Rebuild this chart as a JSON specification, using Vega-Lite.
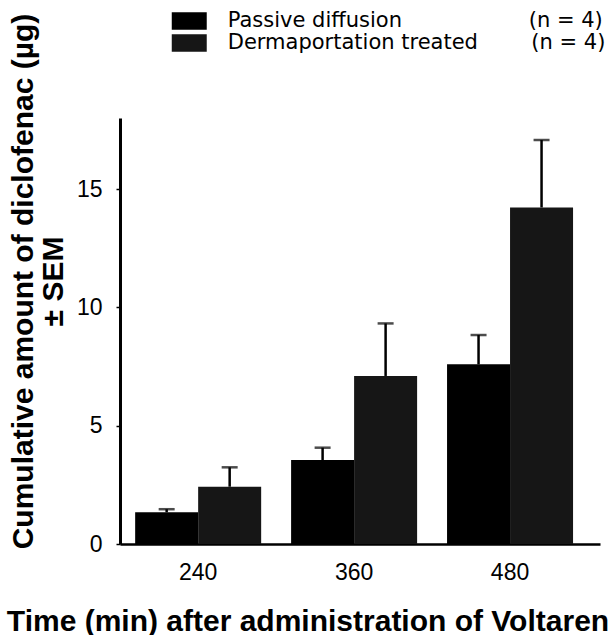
{
  "$schema": "https://vega.github.io/schema/vega-lite/v6.json",
  "width": 480,
  "height": 426,
  "autosize": {"type": "none"},
  "padding": {"left": 120, "top": 118, "right": 15, "bottom": 91},
  "background": "white",
  "config": {
    "view": {"stroke": null},
    "font": "Liberation Sans",
    "axis": {"labelColor": "black", "titleColor": "black", "domainColor": "black", "tickColor": "black"}
  },
  "data": {
    "values": [
      {"time": "240", "group": "Passive diffusion", "mean": 1.34, "upper": 1.47},
      {"time": "240", "group": "Dermaportation treated", "mean": 2.42, "upper": 3.24},
      {"time": "360", "group": "Passive diffusion", "mean": 3.55, "upper": 4.07},
      {"time": "360", "group": "Dermaportation treated", "mean": 7.1, "upper": 9.32},
      {"time": "480", "group": "Passive diffusion", "mean": 7.59, "upper": 8.83},
      {"time": "480", "group": "Dermaportation treated", "mean": 14.22, "upper": 17.07}
    ]
  },
  "encoding": {
    "x": {
      "field": "time",
      "type": "nominal",
      "sort": ["240", "360", "480"],
      "scale": {"paddingInner": 0.192, "paddingOuter": 0.135, "align": 0.36},
      "axis": {
        "title": "Time (min) after administration of Voltaren",
        "labelAngle": 0,
        "ticks": false,
        "tickSize": 0,
        "domainWidth": 2.5,
        "labelFontSize": 23,
        "labelPadding": 17,
        "titleFontSize": 30,
        "titleFontWeight": "bold",
        "titleX": 187.5,
        "titleY": 86,
        "titleBaseline": "alphabetic",
        "titleAlign": "center",
        "titleAnchor": null
      }
    },
    "xOffset": {
      "field": "group",
      "type": "nominal",
      "sort": ["Passive diffusion", "Dermaportation treated"],
      "scale": {"paddingInner": 0, "paddingOuter": 0}
    }
  },
  "layer": [
    {
      "mark": {"type": "bar"},
      "encoding": {
        "y": {
          "field": "mean",
          "type": "quantitative",
          "scale": {"domain": [0, 18], "nice": false},
          "axis": {
            "title": ["Cumulative amount of diclofenac (µg)", "± SEM"],
            "values": [0, 5, 10, 15],
            "grid": false,
            "domainWidth": 3,
            "tickSize": 4,
            "tickWidth": 1.5,
            "labelFontSize": 23,
            "labelPadding": 14,
            "titleFontSize": 30,
            "titleFontWeight": "bold",
            "titleAngle": -90,
            "titleAlign": "center",
            "titleBaseline": "top",
            "titleLineHeight": 30,
            "titleX": -112,
            "titleY": 163
          }
        },
        "color": {
          "field": "group",
          "type": "nominal",
          "sort": ["Passive diffusion", "Dermaportation treated"],
          "scale": {"domain": ["Passive diffusion", "Dermaportation treated"], "range": ["#000000", "#161616"]},
          "legend": {
            "title": null,
            "orient": "none",
            "legendX": 58.75,
            "legendY": -107.5,
            "padding": 0,
            "rowPadding": 0,
            "symbolType": "M-2,-1H2V1H-2Z",
            "symbolSize": 306,
            "symbolStrokeWidth": 0,
            "labelFont": "DejaVu Sans",
            "labelFontSize": 21,
            "labelColor": "black",
            "labelLimit": 600,
            "labelOffset": 28,
            "labelExpr": "datum.label == 'Passive diffusion' ? 'Passive diffusion\u00a0\u00a0\u00a0\u00a0\u00a0\u00a0\u00a0\u00a0\u00a0\u00a0\u00a0\u00a0\u00a0\u00a0\u00a0\u00a0\u00a0\u00a0\u00a0(n = 4)' : 'Dermaportation treated\u00a0\u00a0\u00a0\u00a0\u00a0\u00a0\u00a0\u00a0(n = 4)'"
          }
        }
      }
    },
    {
      "mark": {"type": "rule", "strokeWidth": 2.5, "color": "black"},
      "encoding": {
        "y": {"field": "mean", "type": "quantitative"},
        "y2": {"field": "upper"}
      }
    },
    {
      "mark": {"type": "tick", "thickness": 2.5, "size": 16, "color": "black"},
      "encoding": {
        "y": {"field": "upper", "type": "quantitative"}
      }
    }
  ]
}
